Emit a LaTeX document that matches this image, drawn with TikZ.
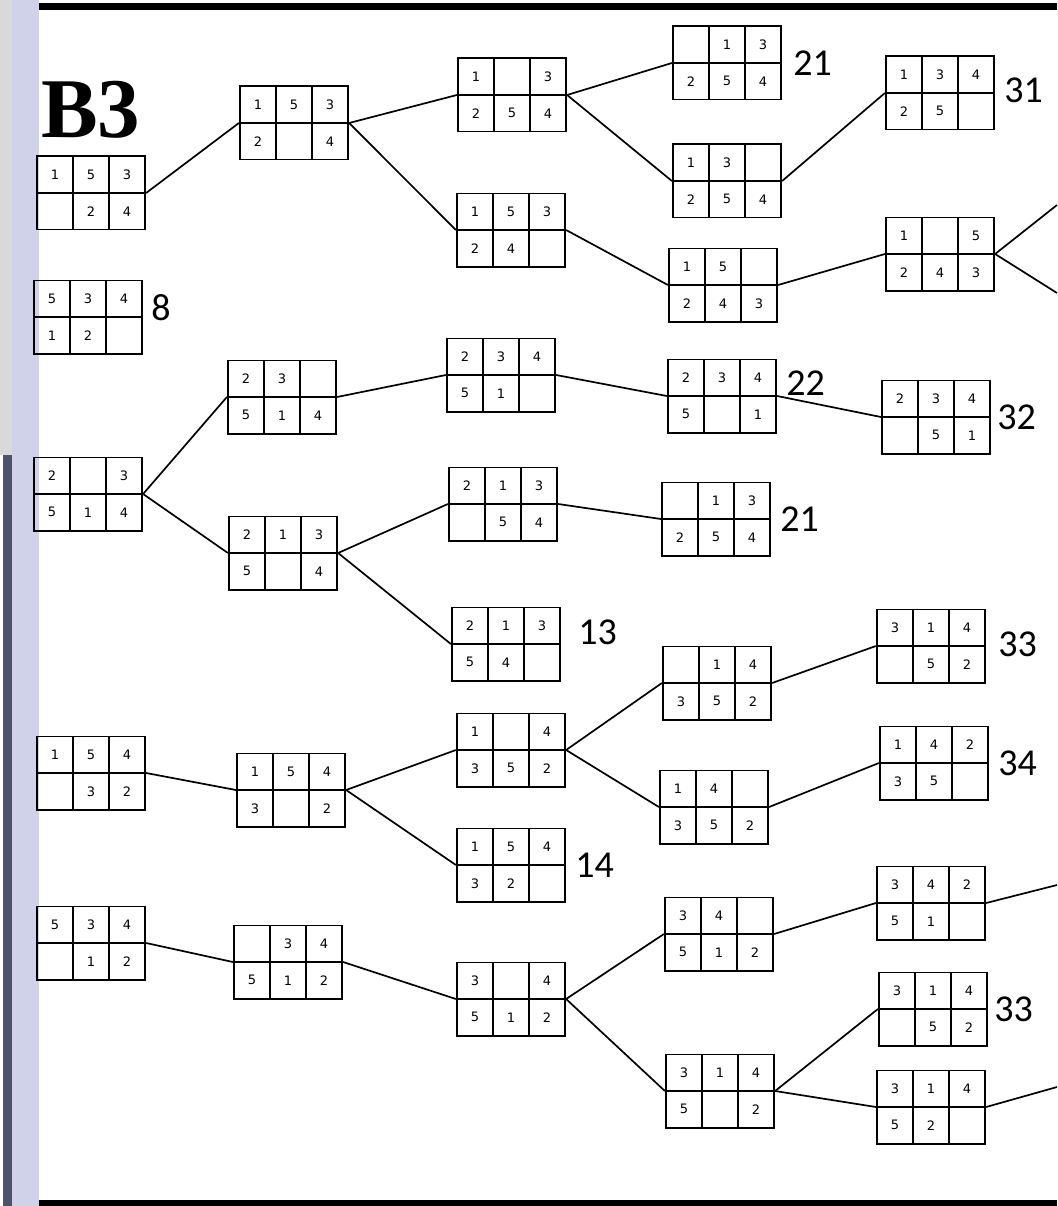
\documentclass[tikz,border=0pt]{standalone}
\usepackage{fontspec}
\usetikzlibrary{matrix,positioning}
\newfontfamily\cellfont{DejaVu Sans}
\newfontfamily\tagfont{Carlito}
\newfontfamily\titlefont{Liberation Serif}
\definecolor{stripdark}{HTML}{50516A}
\definecolor{striplight}{HTML}{CFD2E8}
\tikzset{
  board/.style={matrix of nodes, nodes in empty cells, inner sep=0pt,
    column sep=-1.8pt, row sep=-1.8pt,
    nodes={draw, line width=1.8pt, minimum width=36pt, minimum height=36.6pt,
      anchor=center, inner sep=0pt, font=\cellfont\fontsize{13}{13}\selectfont}},
  link/.style={line width=1.7pt},
  tag/.style={inner sep=0pt, font=\tagfont\fontsize{38}{38}\selectfont},
}

\begin{document}
\begin{tikzpicture}[x=1pt,y=-1pt]
  \useasboundingbox (0,0) rectangle (1057,1206);
  % slide frame
  \fill[striplight] (12,0) rectangle (39,1206);
  \fill[gray!30] (0,0) rectangle (12,455);
  \fill[stripdark] (3,455) rectangle (12,1206);
  \fill[black] (39,3) rectangle (1057,10);
  \fill[black] (39,1200) rectangle (1057,1206);
  \node[anchor=base west, inner sep=0pt,
    font=\titlefont\bfseries\fontsize{85}{85}\selectfont] (title) at (41,138) {B3};
  % first column
  \matrix[board] (a1) at (91,193) {1 & 5 & 3 \\ & 2 & 4 \\};
  \matrix[board] (a2) at (88,317) {5 & 3 & 4 \\ 1 & 2 & \\};
  \matrix[board] (a3) at (88,494) {2 & & 3 \\ 5 & 1 & 4 \\};
  \matrix[board] (a4) at (91,773) {1 & 5 & 4 \\ & 3 & 2 \\};
  \matrix[board] (a5) at (91,943) {5 & 3 & 4 \\ & 1 & 2 \\};
  % second column
  \matrix[board] (b1) at (294,123) {1 & 5 & 3 \\ 2 & & 4 \\};
  \matrix[board] (b2) at (282,397) {2 & 3 & \\ 5 & 1 & 4 \\};
  \matrix[board] (b3) at (283,553) {2 & 1 & 3 \\ 5 & & 4 \\};
  \matrix[board] (b4) at (291,790) {1 & 5 & 4 \\ 3 & & 2 \\};
  \matrix[board] (b5) at (288,962) { & 3 & 4 \\ 5 & 1 & 2 \\};
  % third column
  \matrix[board] (c1) at (512,95) {1 & & 3 \\ 2 & 5 & 4 \\};
  \matrix[board] (c2) at (511,230) {1 & 5 & 3 \\ 2 & 4 & \\};
  \matrix[board] (c3) at (501,375) {2 & 3 & 4 \\ 5 & 1 & \\};
  \matrix[board] (c4) at (503,504) {2 & 1 & 3 \\ & 5 & 4 \\};
  \matrix[board] (c5) at (506,644) {2 & 1 & 3 \\ 5 & 4 & \\};
  \matrix[board] (c6) at (511,750) {1 & & 4 \\ 3 & 5 & 2 \\};
  \matrix[board] (c7) at (511,865) {1 & 5 & 4 \\ 3 & 2 & \\};
  \matrix[board] (c8) at (511,999) {3 & & 4 \\ 5 & 1 & 2 \\};
  % fourth column
  \matrix[board] (d1) at (727,63) { & 1 & 3 \\ 2 & 5 & 4 \\};
  \matrix[board] (d2) at (727,181) {1 & 3 & \\ 2 & 5 & 4 \\};
  \matrix[board] (d3) at (723,285) {1 & 5 & \\ 2 & 4 & 3 \\};
  \matrix[board] (d4) at (722,396) {2 & 3 & 4 \\ 5 & & 1 \\};
  \matrix[board] (d5) at (716,519) { & 1 & 3 \\ 2 & 5 & 4 \\};
  \matrix[board] (d6) at (717,683) { & 1 & 4 \\ 3 & 5 & 2 \\};
  \matrix[board] (d7) at (714,807) {1 & 4 & \\ 3 & 5 & 2 \\};
  \matrix[board] (d8) at (719,934) {3 & 4 & \\ 5 & 1 & 2 \\};
  \matrix[board] (d9) at (720,1091) {3 & 1 & 4 \\ 5 & & 2 \\};
  % fifth column
  \matrix[board] (e1) at (940,93) {1 & 3 & 4 \\ 2 & 5 & \\};
  \matrix[board] (e2) at (940,254) {1 & & 5 \\ 2 & 4 & 3 \\};
  \matrix[board] (e3) at (936,417) {2 & 3 & 4 \\ & 5 & 1 \\};
  \matrix[board] (e4) at (931,646) {3 & 1 & 4 \\ & 5 & 2 \\};
  \matrix[board] (e5) at (934,763) {1 & 4 & 2 \\ 3 & 5 & \\};
  \matrix[board] (e6) at (931,903) {3 & 4 & 2 \\ 5 & 1 & \\};
  \matrix[board] (e7) at (933,1009) {3 & 1 & 4 \\ & 5 & 2 \\};
  \matrix[board] (e8) at (931,1107) {3 & 1 & 4 \\ 5 & 2 & \\};
  % numbers beside boards
  \node[tag, right=8pt of a2, yshift=9pt] (t8) {8};
  \node[tag, right=11pt of d1] (t21a) {21};
  \node[tag, right=9pt of e1, yshift=3pt] (t31) {31};
  \node[tag, right=9pt of d4, yshift=13pt] (t22) {22};
  \node[tag, right=6pt of e3] (t32) {32};
  \node[tag, right=9pt of d5] (t21b) {21};
  \node[tag, right=17pt of c5, yshift=12pt] (t13) {13};
  \node[tag, right=12pt of e4, yshift=2pt] (t33a) {33};
  \node[tag, right=9pt of e5] (t34) {34};
  \node[tag, right=9pt of c7] (t14) {14};
  \node[tag, right=6pt of e7] (t33b) {33};
  % branches
  \foreach \p/\q in {a1/b1,b1/c1,b1/c2,c1/d1,c1/d2,c2/d3,d2/e1,d3/e2,
      a3/b2,a3/b3,b2/c3,c3/d4,d4/e3,b3/c4,b3/c5,c4/d5,
      a4/b4,b4/c6,b4/c7,c6/d6,c6/d7,d6/e4,d7/e5,
      a5/b5,b5/c8,c8/d8,c8/d9,d8/e6,d9/e7,d9/e8}
    \draw[link] (\p.east) -- (\q.west);
  % branches running off the page
  \coordinate (e2up) at (1057,205);
  \coordinate (e2dn) at (1057,293);
  \coordinate (e6out) at (1057,885);
  \coordinate (e8out) at (1057,1087);
  \draw[link] (e2.east) -- (e2up);
  \draw[link] (e2.east) -- (e2dn);
  \draw[link] (e6.east) -- (e6out);
  \draw[link] (e8.east) -- (e8out);
\end{tikzpicture}
\end{document}
